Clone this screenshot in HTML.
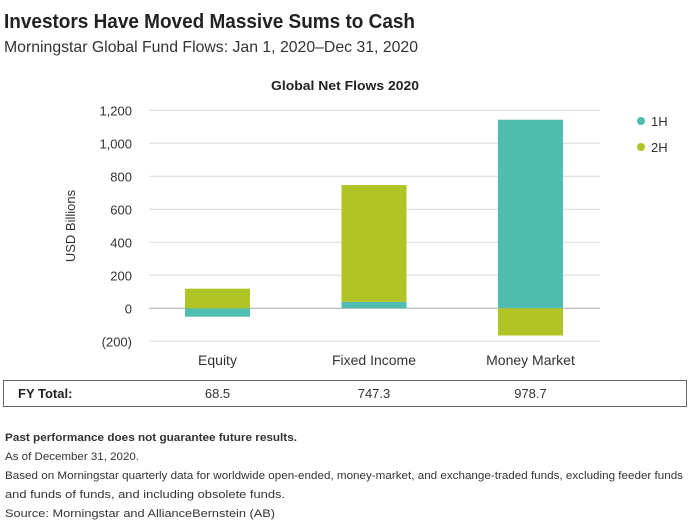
<!DOCTYPE html>
<html><head><meta charset="utf-8"><style>
html,body{margin:0;padding:0;background:#fff;}
svg{display:block;font-family:"Liberation Sans",sans-serif;}
</style></head><body>
<svg id="chart" width="690" height="522" viewBox="0 0 690 522">
<text x="4" y="28" font-size="20" font-weight="bold" fill="#222" textLength="411" lengthAdjust="spacingAndGlyphs">Investors Have Moved Massive Sums to Cash</text>
<text x="4" y="52" font-size="16" fill="#333" textLength="414" lengthAdjust="spacingAndGlyphs">Morningstar Global Fund Flows: Jan 1, 2020–Dec 31, 2020</text>
<text x="271" y="90" font-size="13" font-weight="bold" fill="#222" textLength="148" lengthAdjust="spacingAndGlyphs">Global Net Flows 2020</text>
<g id="grid"></g>
<g id="bars"></g>
<g id="ticks"></g>
<g id="cats"></g>
<text transform="translate(75,226) rotate(-90)" text-anchor="middle" font-size="13" fill="#333">USD Billions</text>
<circle cx="641" cy="121" r="4" fill="#4fbdaf"/>
<text x="651" y="126" font-size="13" fill="#333">1H</text>
<circle cx="641" cy="147" r="4" fill="#b1c426"/>
<text x="651" y="152" font-size="13" fill="#333">2H</text>
<rect x="3.5" y="380.5" width="683" height="26" fill="none" stroke="#666" stroke-width="1"/>
<text x="18" y="398" font-size="13" font-weight="bold" fill="#222">FY Total:</text>
<g id="totals"></g>
<g font-size="11" fill="#333">
<text x="5" y="441" font-weight="bold" textLength="292" lengthAdjust="spacingAndGlyphs">Past performance does not guarantee future results.</text>
<text x="5" y="460" textLength="134" lengthAdjust="spacingAndGlyphs">As of December 31, 2020.</text>
<text x="5" y="479" textLength="678" lengthAdjust="spacingAndGlyphs">Based on Morningstar quarterly data for worldwide open-ended, money-market, and exchange-traded funds, excluding feeder funds</text>
<text x="5" y="498" textLength="280" lengthAdjust="spacingAndGlyphs">and funds of funds, and including obsolete funds.</text>
<text x="5" y="517" textLength="270" lengthAdjust="spacingAndGlyphs">Source: Morningstar and AllianceBernstein (AB)</text>
</g>
</svg>
<script>
const categories = ["Equity", "Fixed Income", "Money Market"];
const h1Values = [-51, 39, 1143];
const h2Values = [119, 708, -165];
const fyTotals = ["68.5", "747.3", "978.7"];
const yTicks = [-200, 0, 200, 400, 600, 800, 1000, 1200];
const yTickLabels = ["(200)", "0", "200", "400", "600", "800", "1,000", "1,200"];

const NS = "http://www.w3.org/2000/svg";
const y = v => 308.3 - v * 0.165;
const xc = i => 217.5 + i * 156.5;
const barW = 65;
function mk(tag, attrs, parent) {
  const e = document.createElementNS(NS, tag);
  for (const k in attrs) e.setAttribute(k, attrs[k]);
  document.getElementById(parent).appendChild(e);
  return e;
}
yTicks.forEach((t, i) => {
  const l = mk("line", {x1: 149, x2: 600, y1: y(t), y2: y(t), stroke: t === 0 ? "#aaa" : "#d9d9d9", "stroke-width": 1}, "grid");
  
  
  const tx = mk("text", {x: 132, y: y(t) + 5, "text-anchor": "end", "font-size": 13, fill: "#333"}, "ticks");
  tx.textContent = yTickLabels[i];
  
  
});
function seg(i, base, val, color, name) {
  const a = y(base), b = y(base + val);
  const r = mk("rect", {x: xc(i) - barW / 2, y: Math.min(a, b), width: barW, height: Math.abs(a - b), fill: color}, "bars");
  
  
}
categories.forEach((c, i) => {
  const h1 = h1Values[i], h2 = h2Values[i];
  seg(i, 0, h1, "#4fbdaf", "bar-1h");
  const base2 = (h1 >= 0) === (h2 >= 0) ? h1 : 0;
  seg(i, base2, h2, "#b1c426", "bar-2h");
  const t = mk("text", {x: xc(i), y: 365, "text-anchor": "middle", "font-size": 14, fill: "#333"}, "cats");
  t.textContent = c;
  
  
  const ft = mk("text", {x: xc(i), y: 398, "text-anchor": "middle", "font-size": 13, fill: "#333"}, "totals");
  ft.textContent = fyTotals[i];
  
  
});
</script>
</body></html>
